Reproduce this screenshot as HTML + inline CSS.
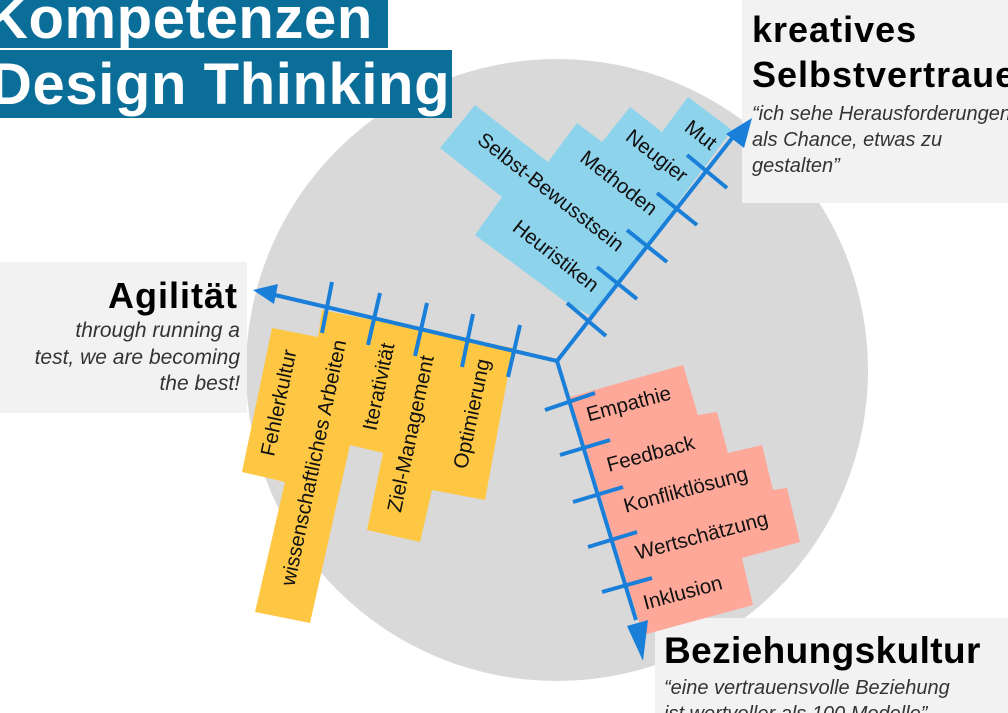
<!DOCTYPE html>
<html><head><meta charset="utf-8"><style>
html,body{margin:0;padding:0;background:#fff;width:1008px;height:713px;overflow:hidden}
svg{display:block;font-family:"Liberation Sans",sans-serif}
</style></head><body>
<svg width="1008" height="713" viewBox="0 0 1008 713">
<circle cx="557" cy="370" r="311" fill="#d9d9d9"/>
<rect x="0" y="0" width="388" height="48" fill="#0b6e99"/>
<rect x="0" y="50" width="452" height="68" fill="#0b6e99"/>
<text x="-14" y="38" font-size="58" font-weight="bold" fill="#fff" letter-spacing="0.6">Kompetenzen</text>
<text x="-10" y="104" font-size="58" font-weight="bold" fill="#fff" letter-spacing="0.6">Design Thinking</text>
<rect x="742" y="0" width="266" height="203" fill="#f2f2f2"/>
<text x="752" y="42" font-size="36" font-weight="bold" fill="#000" letter-spacing="1">kreatives</text>
<text x="752" y="87" font-size="36" font-weight="bold" fill="#000" letter-spacing="1">Selbstvertrauen</text>
<g font-size="20" font-style="italic" fill="#333">
<text x="752" y="120">“ich sehe Herausforderungen</text>
<text x="752" y="146">als Chance, etwas zu</text>
<text x="752" y="172">gestalten”</text>
</g>
<rect x="0" y="262" width="247" height="151" fill="#f2f2f2"/>
<text x="238" y="308" font-size="36" font-weight="bold" text-anchor="end" letter-spacing="1">Agilität</text>
<g font-size="21" font-style="italic" fill="#333" text-anchor="end">
<text x="240" y="337">through running a</text>
<text x="240" y="364">test, we are becoming</text>
<text x="240" y="390">the best!</text>
</g>
<rect x="655" y="618" width="353" height="95" fill="#f2f2f2"/>
<text x="664" y="663" font-size="37" font-weight="bold" letter-spacing="0.4">Beziehungskultur</text>
<g font-size="20" font-style="italic" fill="#333">
<text x="664" y="694">“eine vertrauensvolle Beziehung</text>
<text x="664" y="720">ist wertvoller als 100 Modelle”</text>
</g>
<polygon fill="#8ed3ec" points="440,148 475,105 548,162 577,123 602,142 630,107 662,132 688,97 732,130 593,317 567,303 475,235 502,197"/>
<polygon fill="#fdc743" points="242,472 272,328 318,337 322,310 513,348 485,500 432,490 420,542 367,530 383,453 350,445 310,623 255,612 285,482"/>
<polygon fill="#fda899" points="570,397 683,365 698,415 717,412 728,453 762,445 773,490 787,488 800,542 742,558 753,605 643,635"/>
<g stroke="#1a7fd8" stroke-width="4" fill="none">
<polyline points="733,137 557,361 275,295"/>
<polyline points="557,361 636,620"/>
<line x1="687" y1="155" x2="727" y2="188"/>
<line x1="657" y1="193" x2="697" y2="225"/>
<line x1="627" y1="230" x2="667" y2="262"/>
<line x1="597" y1="267" x2="637" y2="299"/>
<line x1="567" y1="303" x2="606" y2="336"/>
<line x1="332" y1="282" x2="322" y2="333"/>
<line x1="380" y1="293" x2="368" y2="345"/>
<line x1="427" y1="303" x2="415" y2="356"/>
<line x1="473" y1="314" x2="462" y2="367"/>
<line x1="520" y1="325" x2="508" y2="377"/>
<line x1="545" y1="410" x2="595" y2="393"/>
<line x1="560" y1="455" x2="610" y2="440"/>
<line x1="573" y1="502" x2="623" y2="487"/>
<line x1="588" y1="547" x2="637" y2="532"/>
<line x1="602" y1="592" x2="652" y2="578"/>
</g>
<g fill="#1a7fd8">
<polygon points="752,118 744,148 726,134"/>
<polygon points="253,290 278,284 274,304"/>
<polygon points="643,661 627,626 648,620"/>
</g>
<g font-size="20.5" fill="#111" text-anchor="middle" dominant-baseline="middle">
<text transform="translate(700,136) rotate(38)">Mut</text>
<text transform="translate(656,157) rotate(38)">Neugier</text>
<text transform="translate(618,184) rotate(38)">Methoden</text>
<text transform="translate(550,193) rotate(38)">Selbst-Bewusstsein</text>
<text transform="translate(555,257) rotate(38)">Heuristiken</text>
<text transform="translate(280,403) rotate(-78)">Fehlerkultur</text>
<text transform="translate(315,463) rotate(-78)">wissenschaftliches Arbeiten</text>
<text transform="translate(380,387) rotate(-78)">Iterativität</text>
<text transform="translate(412,434) rotate(-78)">Ziel-Management</text>
<text transform="translate(473,414) rotate(-78)">Optimierung</text>
<text transform="translate(629,405) rotate(-15)">Empathie</text>
<text transform="translate(651,455) rotate(-15)">Feedback</text>
<text transform="translate(686,491) rotate(-15)">Konfliktlösung</text>
<text transform="translate(702,537) rotate(-15)">Wertschätzung</text>
<text transform="translate(683,594) rotate(-15)">Inklusion</text>
</g>
</svg>
</body></html>
